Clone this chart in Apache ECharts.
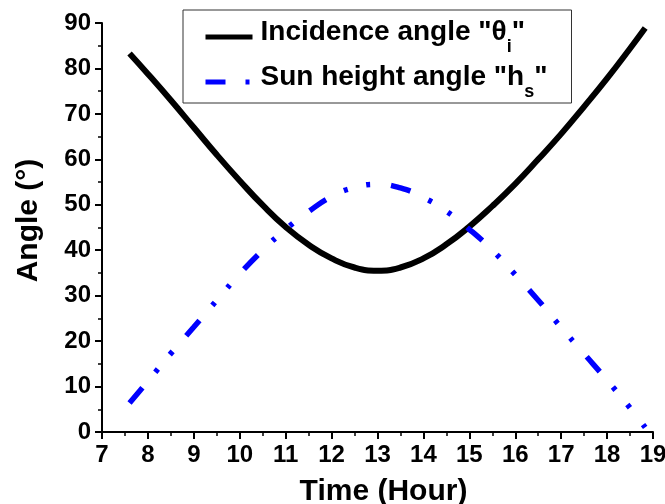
<!DOCTYPE html>
<html>
<head>
<meta charset="utf-8">
<script src="https://cdn.jsdelivr.net/npm/echarts@6/dist/echarts.min.js"></script>
<style>
  html, body { margin: 0; padding: 0; background: #fff; }
  #chart { width: 665px; height: 504px; }
</style>
</head>
<body>
<div id="chart"></div>
<script>
const hours = [7.6, 8, 8.5, 9, 9.5, 10, 10.5, 11, 11.5, 12, 12.5, 13, 13.5, 14, 14.5, 15, 15.5, 16, 16.5, 17, 17.5, 18, 18.5, 18.83];
const incidence = [83.3, 78.8, 73.0, 67.0, 61.0, 55.3, 49.9, 45.1, 41.2, 38.2, 36.2, 35.5, 36.2, 38.2, 41.3, 45.2, 49.7, 54.6, 60.0, 65.6, 71.6, 77.8, 84.4, 88.9];
const sunHeight = [6.4, 11.2, 17.3, 23.1, 29, 34.8, 40, 44.6, 48.5, 51.8, 53.8, 54.5, 53.7, 51.6, 48.6, 44.6, 40, 34.6, 29, 23, 17.2, 11.4, 5.3, 1];

const FONT = "'Liberation Sans', Arial, sans-serif";

function pairs(ys) {
  return hours.map((h, i) => [h, ys[i]]);
}

const axisStyle = {
  axisLine: { show: true, onZero: false, lineStyle: { color: "#000", width: 2 } },
  axisTick: { show: true, inside: false, length: 7, lineStyle: { color: "#000", width: 2 } },
  minorTick: { show: true, splitNumber: 2, length: 4, lineStyle: { color: "#000", width: 1.5 } },
  splitLine: { show: false },
  axisLabel: { color: "#000", fontFamily: FONT, fontWeight: "bold", fontSize: 24, margin: 11 },
  nameTextStyle: { color: "#000", fontFamily: FONT, fontWeight: "bold", fontSize: 30 }
};

// legend rows: main text hangs from the top of the line, subscript sits on its bottom
const LEGEND_LINE = 38;

const chart = echarts.init(document.getElementById("chart"), null, { renderer: "canvas" });
chart.setOption({
  animation: false,
  backgroundColor: "#fff",
  grid: { left: 102, right: 12, top: 23, bottom: 72, containLabel: false, outerBoundsMode: "none" },
  legend: {
    orient: "vertical",
    left: 183,
    top: 10,
    padding: [8, 24, 2, 20],
    itemGap: 7,
    itemWidth: 47,
    itemHeight: 24,
    borderColor: "#333",
    borderWidth: 1,
    lineStyle: { width: 5 },
    itemStyle: { opacity: 0 },
    formatter: function (name) {
      if (name === "inc") return '{t|Incidence angle "θ}{sub|i}{t|"}';
      return '{t|Sun height angle "h}{sub|s}{t|"}';
    },
    textStyle: {
      padding: [0, 0, 0, 3],
      rich: {
        t: { color: "#000", fontFamily: FONT, fontWeight: "bold", fontSize: 28, lineHeight: LEGEND_LINE, verticalAlign: "top" },
        sub: { color: "#000", fontFamily: FONT, fontWeight: "bold", fontSize: 18, lineHeight: LEGEND_LINE, verticalAlign: "bottom" }
      }
    }
  },
  xAxis: Object.assign({
    type: "value",
    min: 7,
    max: 19,
    interval: 1,
    name: "Time (Hour)",
    nameLocation: "middle",
    nameGap: 45
  }, axisStyle, {
    nameTextStyle: Object.assign({}, axisStyle.nameTextStyle, { padding: [0, 0, 0, 12] })
  }),
  yAxis: Object.assign({
    type: "value",
    min: 0,
    max: 90,
    interval: 10,
    name: "Angle (°)",
    nameLocation: "middle",
    nameGap: 58
  }, axisStyle, {
    nameTextStyle: Object.assign({}, axisStyle.nameTextStyle, { padding: [0, 0, 0, 14] })
  }),
  series: [
    {
      name: "inc",
      type: "line",
      smooth: true,
      showSymbol: false,
      symbol: "none",
      data: pairs(incidence),
      lineStyle: { color: "#000", width: 6 },
      itemStyle: { color: "#000" }
    },
    {
      name: "sun",
      type: "line",
      smooth: true,
      showSymbol: false,
      symbol: "none",
      data: pairs(sunHeight),
      lineStyle: { color: "#0000ff", width: 5.5, type: [20, 20, 4, 19, 4, 21], cap: "butt" },
      itemStyle: { color: "#0000ff" }
    }
  ]
});
</script>
</body>
</html>
